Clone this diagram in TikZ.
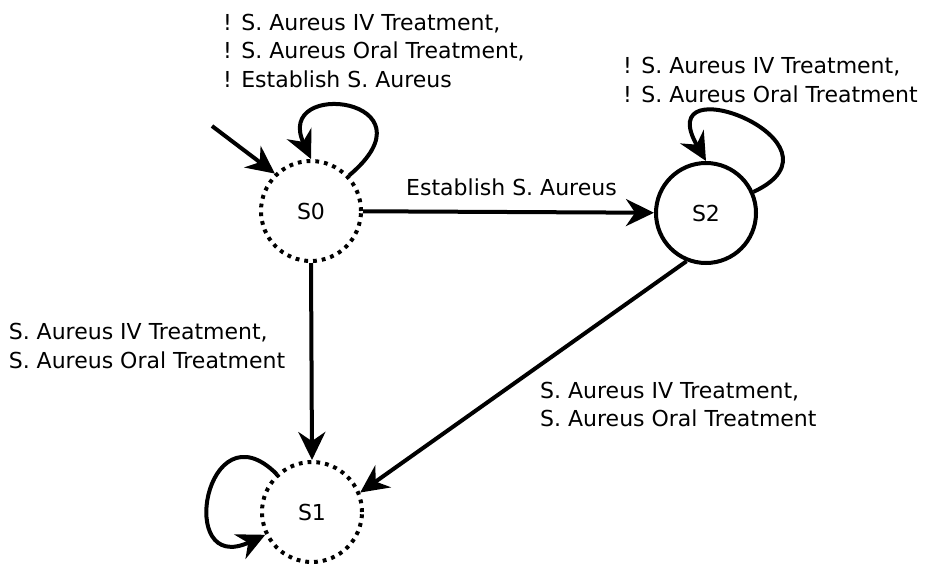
\documentclass[tikz,border=0pt]{standalone}
\usepackage{fontspec}
\setmainfont{DejaVu Sans}
\usetikzlibrary{arrows.meta}
\begin{document}
\begin{tikzpicture}[x=1pt,y=1pt,
  font=\fontsize{22pt}{28.6pt}\selectfont,
  state/.style={circle,minimum size=100pt,inner sep=0pt,line width=4pt},
  solidstate/.style={state,draw},
  dotstate/.style={state,draw,dash pattern=on 3.8pt off 5pt},
  edge/.style={line width=4pt,-{Stealth[length=28pt,width=27pt]}},
  lbl/.style={anchor=base west,align=left,inner sep=0pt}]
\useasboundingbox (0,0) rectangle (931,-563);

% states
\node[dotstate]   (S0) at (311,-211) {S0};
\node[solidstate] (S2) at (706,-213) {S2};
\node[dotstate]   (S1) at (312,-512) {S1};

% initial transition
\coordinate (init) at (212,-126);
\draw[edge] (init) -- (S0.134);

% self loops
\draw[edge] (S0.43) to[out=40,in=115,out distance=120pt,in distance=90pt] (S0.90);
\draw[edge] (S2.24) to[out=25,in=120,out distance=115pt,in distance=115pt] (S2.90);
\draw[edge] (S1.133) to[out=135,in=205,out distance=100pt,in distance=100pt] (S1.206);

% transitions between states
\draw[edge] (S0) -- (S2);
\draw[edge] (S0.south) -- (S1.north);
\draw[edge] (S2.248) -- (S1.22);

% transition labels (anchored at the baseline of their last line)
\node[lbl] (lab00) at (223,-87.3) {! S. Aureus IV Treatment,\\! S. Aureus Oral Treatment,\\! Establish S. Aureus};
\node[lbl] (lab22) at (623,-102.3) {! S. Aureus IV Treatment,\\! S. Aureus Oral Treatment};
\node[lbl] (lab02) at (406,-195) {Establish S. Aureus};
\node[lbl] (lab01) at (8.6,-368) {S. Aureus IV Treatment,\\S. Aureus Oral Treatment};
\node[lbl] (lab21) at (540,-426.7) {S. Aureus IV Treatment,\\S. Aureus Oral Treatment};
\end{tikzpicture}
\end{document}
